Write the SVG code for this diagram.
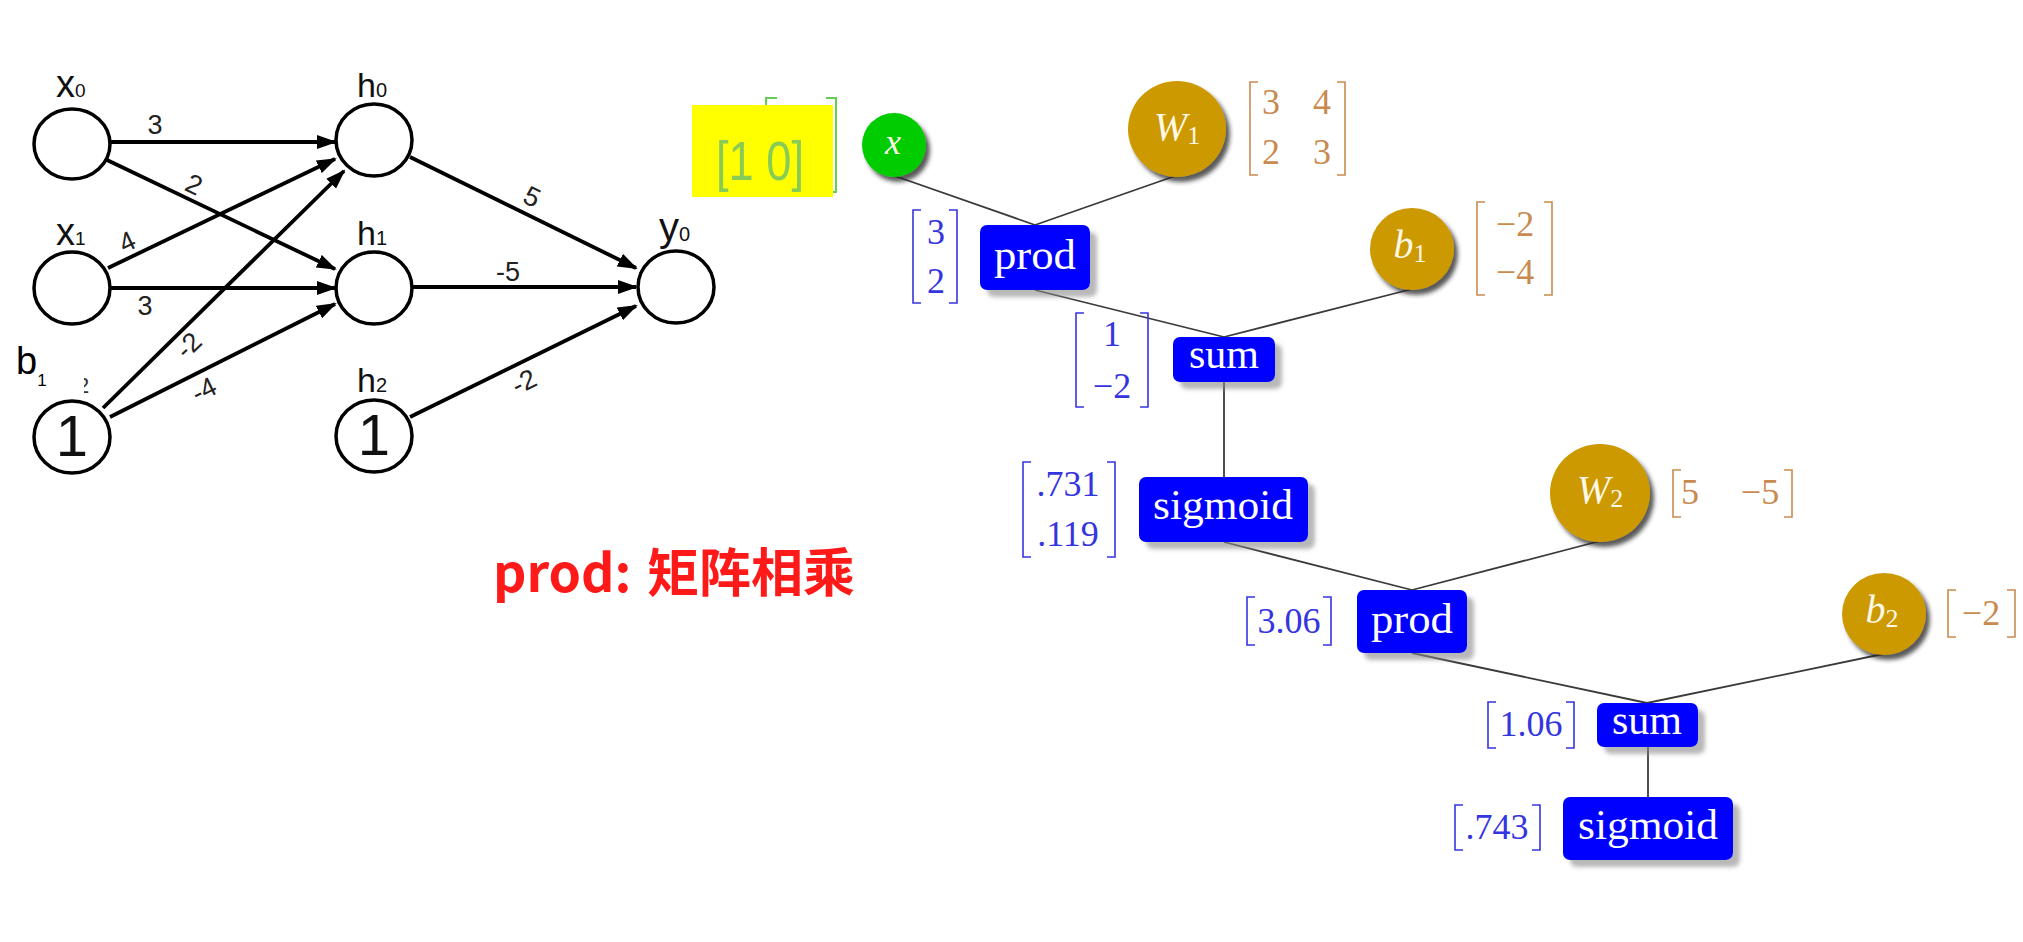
<svg xmlns="http://www.w3.org/2000/svg" width="2023" height="942" viewBox="0 0 2023 942">
<style>
.nn{fill:none;stroke:#000;stroke-width:3.5}
.edge{stroke:#000;stroke-width:3.8;fill:none}
.nl{font-family:"Liberation Sans",Arial,sans-serif;fill:#111}
.wl{font-family:"Liberation Sans",Arial,sans-serif;font-size:27px;fill:#222;text-anchor:middle}
.cg{stroke:#3a3a3a;stroke-width:1.8;fill:none}
.box{fill:#0000ff}
.bt{font-family:"Liberation Serif","Times New Roman",serif;font-size:42px;fill:#fff;text-anchor:middle}
.it{font-family:"Liberation Serif","Times New Roman",serif;font-style:italic;fill:#fff8e6;text-anchor:middle}
.gold{fill:#cc9900}
.tan{font-family:"Liberation Serif","Times New Roman",serif;font-size:36px;fill:#c98a50;text-anchor:middle}
.blu{font-family:"Liberation Serif","Times New Roman",serif;font-size:36px;fill:#3535e0;text-anchor:middle}
.brT{stroke:#c98a50;stroke-width:1.6;fill:none}
.brB{stroke:#3535e0;stroke-width:1.6;fill:none}
</style>
<defs>
<marker id="arr" markerWidth="20" markerHeight="14" refX="18" refY="7" orient="auto" markerUnits="userSpaceOnUse"><path d="M0,0 L20,7 L0,14 z" fill="#000"/></marker>
<filter id="sc" x="-30%" y="-30%" width="160%" height="160%"><feDropShadow dx="4" dy="5" stdDeviation="2" flood-color="#222" flood-opacity="0.75"/></filter>
<filter id="sb" x="-20%" y="-30%" width="140%" height="170%"><feDropShadow dx="7" dy="7" stdDeviation="2" flood-color="#888" flood-opacity="0.6"/></filter>
</defs>
<rect width="2023" height="942" fill="#fff"/>

<!-- left network connectors -->
<g id="nn-edges">
<line class="edge" x1="110" y1="142" x2="335" y2="142" marker-end="url(#arr)"/>
<line class="edge" x1="107" y1="160" x2="335" y2="269" marker-end="url(#arr)"/>
<line class="edge" x1="108" y1="268" x2="335" y2="159" marker-end="url(#arr)"/>
<line class="edge" x1="110" y1="288" x2="335" y2="288" marker-end="url(#arr)"/>
<line class="edge" x1="103" y1="408" x2="344" y2="171" marker-end="url(#arr)"/>
<line class="edge" x1="110" y1="417" x2="335" y2="304" marker-end="url(#arr)"/>
<line class="edge" x1="410" y1="157" x2="636" y2="268" marker-end="url(#arr)"/>
<line class="edge" x1="413" y1="287" x2="636" y2="287" marker-end="url(#arr)"/>
<line class="edge" x1="410" y1="417" x2="636" y2="306" marker-end="url(#arr)"/>
<text class="wl" x="155" y="134">3</text>
<text class="wl" transform="translate(190,193) rotate(25)">2</text>
<text class="wl" transform="translate(131,250) rotate(-25)">4</text>
<text class="wl" x="145" y="315">3</text>
<text class="wl" transform="translate(195,352) rotate(-44)">-2</text>
<text class="wl" transform="translate(208,398) rotate(-26)">-4</text>
<text class="wl" transform="translate(528,205) rotate(26)">5</text>
<text class="wl" x="508" y="281">-5</text>
<text class="wl" transform="translate(528,390) rotate(-26)">-2</text>
</g>

<g id="nn-x0"><ellipse class="nn" cx="72" cy="144" rx="38" ry="35" fill="#fff"/><text class="nl" x="56" y="97" font-size="38">x<tspan font-size="19">0</tspan></text></g>
<g id="nn-x1"><ellipse class="nn" cx="72" cy="288" rx="38" ry="36" fill="#fff"/><text class="nl" x="56" y="245" font-size="38">x<tspan font-size="19">1</tspan></text></g>
<g id="nn-b"><ellipse class="nn" cx="72" cy="437" rx="38" ry="36" fill="#fff"/><text class="nl" x="72" y="456" font-size="58" text-anchor="middle">1</text></g>
<g id="nn-h0"><ellipse class="nn" cx="374" cy="140" rx="38" ry="36" fill="#fff"/><text class="nl" x="357" y="97" font-size="34">h<tspan font-size="20">0</tspan></text></g>
<g id="nn-h1"><ellipse class="nn" cx="374" cy="288" rx="38" ry="36" fill="#fff"/><text class="nl" x="357" y="245" font-size="34">h<tspan font-size="20">1</tspan></text></g>
<g id="nn-h2"><ellipse class="nn" cx="374" cy="436" rx="38" ry="36" fill="#fff"/><text class="nl" x="357" y="392" font-size="34">h<tspan font-size="20">2</tspan></text><text class="nl" x="374" y="455" font-size="58" text-anchor="middle">1</text></g>
<g id="nn-y0"><ellipse class="nn" cx="676" cy="287" rx="38" ry="36" fill="#fff"/><text class="nl" x="659" y="241" font-size="40">y<tspan font-size="20">0</tspan></text></g>

<g id="b1-label">
<text x="77" y="393" font-family="Liberation Sans,Arial,sans-serif" font-size="22" fill="#333">2</text>
<rect x="10" y="335" width="74" height="64" fill="#fff"/>
<text x="16" y="374" font-family="Liberation Sans,Arial,sans-serif" font-size="38" fill="#000">b<tspan font-size="17" dy="12">1</tspan></text>
</g>

<!-- x vector covered by yellow -->
<g id="x-vector">
<path d="M777,98 H766 V192 H777" stroke="#66cc55" stroke-width="2" fill="none"/>
<path d="M826,98 H836 V192 H826" stroke="#66cc55" stroke-width="2" fill="none"/>
<rect x="692" y="105" width="141" height="92" fill="#ffff00"/>
<text x="760" y="180" font-family="Liberation Sans,Arial,sans-serif" font-size="56" fill="#88cc55" text-anchor="middle" textLength="88" lengthAdjust="spacingAndGlyphs">[1 0]</text>
</g>

<!-- computation graph connectors -->
<g id="graph-edges">
<line class="cg" x1="895" y1="176" x2="1035" y2="225"/>
<line class="cg" x1="1175" y1="176" x2="1035" y2="225"/>
<line class="cg" x1="1035" y1="290" x2="1224" y2="337"/>
<line class="cg" x1="1412" y1="289" x2="1224" y2="337"/>
<line class="cg" x1="1224" y1="382" x2="1224" y2="477"/>
<line class="cg" x1="1224" y1="542" x2="1412" y2="590"/>
<line class="cg" x1="1600" y1="541" x2="1412" y2="590"/>
<line class="cg" x1="1412" y1="653" x2="1647" y2="703"/>
<line class="cg" x1="1883" y1="654" x2="1647" y2="703"/>
<line class="cg" x1="1648" y1="747" x2="1648" y2="797"/>
</g>

<g id="node-x"><circle cx="894" cy="145" r="32" fill="#00cc00" filter="url(#sc)"/><text class="it" x="893" y="154" font-size="36">x</text></g>
<g id="node-W1"><ellipse cx="1177" cy="129" rx="49" ry="48" class="gold" filter="url(#sc)"/><text class="it" x="1177" y="140" font-size="40">W<tspan font-size="26" font-style="normal" dy="4">1</tspan></text>
<path class="brT" d="M1258,82 H1250 V175 H1258 M1337,82 H1345 V175 H1337"/>
<text class="tan" x="1271" y="114">3</text><text class="tan" x="1322" y="114">4</text>
<text class="tan" x="1271" y="164">2</text><text class="tan" x="1322" y="164">3</text></g>

<g id="node-prod1"><rect class="box" x="980" y="225" width="110" height="65" rx="7" filter="url(#sb)"/><text class="bt" x="1035" y="269" textLength="82" lengthAdjust="spacingAndGlyphs">prod</text>
<path class="brB" d="M921,210 H913 V303 H921 M949,210 H957 V303 H949"/>
<text class="blu" x="936" y="244">3</text><text class="blu" x="936" y="293">2</text></g>

<g id="node-b1"><ellipse cx="1412" cy="249" rx="42" ry="41" class="gold" filter="url(#sc)"/><text class="it" x="1410" y="258" font-size="40">b<tspan font-size="26" font-style="normal" dy="4">1</tspan></text>
<path class="brT" d="M1485,202 H1477 V295 H1485 M1544,202 H1552 V295 H1544"/>
<text class="tan" x="1515" y="236">−2</text><text class="tan" x="1515" y="284">−4</text></g>

<g id="node-sum1"><rect class="box" x="1173" y="337" width="102" height="45" rx="7" filter="url(#sb)"/><text class="bt" x="1224" y="368">sum</text>
<path class="brB" d="M1084,313 H1076 V407 H1084 M1140,313 H1148 V407 H1140"/>
<text class="blu" x="1112" y="346">1</text><text class="blu" x="1112" y="398">−2</text></g>

<g id="node-sig1"><rect class="box" x="1139" y="477" width="169" height="65" rx="7" filter="url(#sb)"/><text class="bt" x="1223" y="519" textLength="140" lengthAdjust="spacingAndGlyphs">sigmoid</text>
<path class="brB" d="M1031,462 H1023 V557 H1031 M1107,462 H1115 V557 H1107"/>
<text class="blu" x="1068" y="496">.731</text><text class="blu" x="1068" y="546">.119</text></g>

<g id="node-W2"><ellipse cx="1600" cy="493" rx="50" ry="49" class="gold" filter="url(#sc)"/><text class="it" x="1600" y="503" font-size="40">W<tspan font-size="26" font-style="normal" dy="4">2</tspan></text>
<path class="brT" d="M1681,470 H1673 V517 H1681 M1784,470 H1792 V517 H1784"/>
<text class="tan" x="1690" y="504">5</text><text class="tan" x="1760" y="504">−5</text></g>

<g id="node-prod2"><rect class="box" x="1357" y="590" width="110" height="63" rx="7" filter="url(#sb)"/><text class="bt" x="1412" y="633" textLength="82" lengthAdjust="spacingAndGlyphs">prod</text>
<path class="brB" d="M1255,597 H1247 V645 H1255 M1323,597 H1331 V645 H1323"/>
<text class="blu" x="1289" y="633">3.06</text></g>

<g id="node-b2"><ellipse cx="1884" cy="614" rx="42" ry="41" class="gold" filter="url(#sc)"/><text class="it" x="1882" y="623" font-size="40">b<tspan font-size="26" font-style="normal" dy="4">2</tspan></text>
<path class="brT" d="M1956,590 H1948 V637 H1956 M2007,590 H2015 V637 H2007"/>
<text class="tan" x="1981" y="625">−2</text></g>

<g id="node-sum2"><rect class="box" x="1597" y="703" width="101" height="44" rx="7" filter="url(#sb)"/><text class="bt" x="1647" y="734">sum</text>
<path class="brB" d="M1496,702 H1488 V748 H1496 M1566,702 H1574 V748 H1566"/>
<text class="blu" x="1531" y="736">1.06</text></g>

<g id="node-sig2"><rect class="box" x="1563" y="797" width="170" height="63" rx="7" filter="url(#sb)"/><text class="bt" x="1648" y="839" textLength="140" lengthAdjust="spacingAndGlyphs">sigmoid</text>
<path class="brB" d="M1463,805 H1455 V850 H1463 M1532,805 H1540 V850 H1532"/>
<text class="blu" x="1497" y="839">.743</text></g>

<g id="note"><text x="493" y="592" font-family="'Microsoft YaHei','Noto Sans CJK SC',sans-serif" font-weight="bold" font-size="52" fill="#ff1a1a">prod: <tspan x="647">矩阵相乘</tspan></text></g>
</svg>
